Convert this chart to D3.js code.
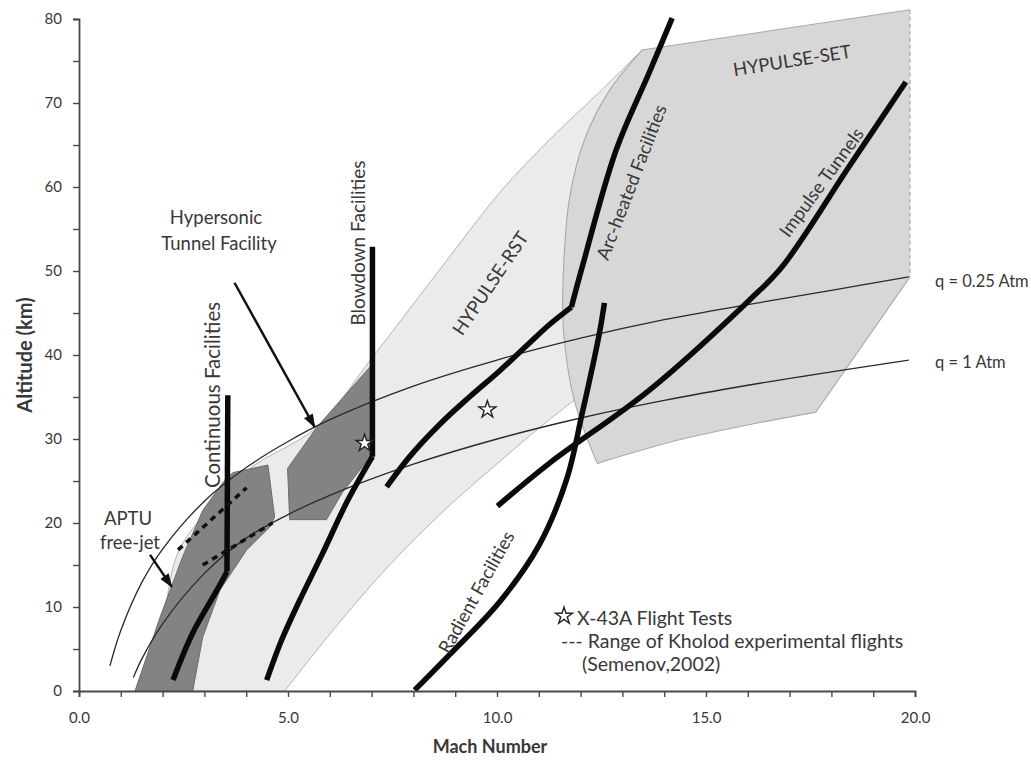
<!DOCTYPE html>
<html>
<head>
<meta charset="utf-8">
<script src="https://cdn.jsdelivr.net/npm/d3@7"></script>
<style>
  body { margin: 0; background: #fff; }
  svg text { font-family: Lato, "Open Sans", sans-serif; fill: #383838; }
</style>
</head>
<body>
<svg id="chart" width="1031" height="768"></svg>
<script>
// ---- Axis ticks -------------------------------------------------------
const machTicks = [0, 1, 2, 3, 4, 5, 6, 7, 8, 9, 10, 11, 12, 13, 14, 15, 16, 17, 18, 19, 20];
const machTickLabels = { 0: "0.0", 5: "5.0", 10: "10.0", 15: "15.0", 20: "20.0" };
const altTicks = [0, 5, 10, 15, 20, 25, 30, 35, 40, 45, 50, 55, 60, 65, 70, 75, 80];
const altTickLabels = { 0: "0", 10: "10", 20: "20", 30: "30", 40: "40", 50: "50", 60: "60", 70: "70", 80: "80" };

// ---- HYPULSE-RST envelope [Mach, altitude km] -------------------------
const rstUpperEdge = [
  [1.58, 0], [2.01, 8.5], [2.37, 16.5], [3.13, 21.8], [4.09, 26.5], [5.69, 31.4],
  [7.00, 39.6], [8.62, 50.1], [10.06, 59.3], [11.25, 65.6], [12.45, 71.3], [13.47, 76.3]
];
const rstHiddenEdge = [[13.47, 76.3], [14.84, 75.1], [12.92, 37.0], [11.85, 34.6]];
const rstLowerEdge = [
  [11.85, 34.6], [11.25, 32.3], [10.06, 27.3], [8.74, 21.5], [7.43, 15.0], [6.12, 7.5], [4.92, 0]
];

// ---- HYPULSE-SET envelope ---------------------------------------------
const setTopEdge = [[13.47, 76.3], [19.88, 81.1]];
const setOpenEdge = [[19.88, 81.1], [19.88, 49.3]];
const setLowerRightEdge = [[19.88, 49.3], [17.63, 33.2]];
const setBottomEdge = [[17.63, 33.2], [16.03, 31.7], [14.36, 29.9], [12.40, 27.1]];
const setLeftEdge = [
  [12.40, 27.1], [11.85, 34.6], [11.59, 43.0], [11.59, 50.1], [11.73, 58.5],
  [12.09, 65.6], [12.69, 71.5], [13.47, 76.3]
];

// ---- Darker facility zones --------------------------------------------
const aptuContinuousZone = [
  [1.34, 0], [1.94, 8.8], [2.48, 16.0], [2.96, 21.5], [3.44, 24.8], [3.68, 26.0],
  [4.52, 26.9], [4.68, 20.7], [4.56, 19.5], [4.01, 16.8], [3.37, 12.0], [2.96, 6.4], [2.72, 0]
];
const hypersonicTunnelZone = [
  [4.99, 26.5], [5.69, 31.4], [7.00, 38.8], [7.00, 28.1], [6.31, 23.7], [5.92, 20.4], [5.04, 20.4]
];

// ---- Constant dynamic pressure lines ----------------------------------
const qQuarterAtm = [
  [0.74, 3.0], [1.0, 7.2], [1.5, 12.9], [2.0, 16.9], [3.0, 22.6], [4.0, 26.6], [5.0, 29.7],
  [6.0, 32.3], [8.0, 36.3], [10.0, 39.4], [12.0, 42.0], [14.0, 44.2], [16.0, 46.0],
  [18.0, 47.7], [19.85, 49.3]
];
const qOneAtm = [
  [1.3, 1.6], [1.5, 3.8], [2.0, 8.0], [3.0, 14.0], [4.0, 18.2], [5.0, 21.0], [6.0, 23.3],
  [8.0, 27.0], [10.0, 30.0], [12.0, 32.5], [14.0, 34.6], [16.0, 36.4], [18.0, 38.0], [19.85, 39.4]
];

// ---- Facility performance lines (each a list of smooth segments) -----
const continuousFacilities = [
  [[2.25, 1.3], [2.72, 6.9], [3.30, 12.0], [3.54, 14.2]],
  [[3.54, 14.2], [3.56, 35.2]]
];
const blowdownFacilities = [
  [[4.49, 1.3], [4.85, 6.1], [5.28, 10.8], [5.81, 16.2], [6.43, 22.7], [7.02, 27.9]],
  [[7.02, 27.9], [7.02, 52.9]]
];
const arcHeatedFacilities = [
  [[7.36, 24.3], [7.91, 27.9], [8.62, 31.7], [9.34, 35.0], [10.06, 38.1], [10.77, 41.4], [11.25, 43.6], [11.78, 45.7]],
  [[11.78, 45.7], [12.04, 50.5], [12.85, 64.4], [13.64, 73.6], [14.19, 80.1]]
];
const radientFacilities = [
  [[8.03, 0.1], [8.86, 4.3], [10.06, 10.6], [11.01, 17.4], [11.66, 25.1], [12.04, 33.1], [12.45, 42.6], [12.57, 46.2]]
];
const impulseTunnels = [
  [[10.01, 22.0], [11.25, 27.1], [13.64, 35.8], [16.03, 46.5], [16.82, 50.5], [18.42, 62.4], [19.78, 72.5]]
];

// ---- Kholod flight ranges and X-43A flights ---------------------------
const kholodUpper = [[2.37, 16.8], [4.01, 24.2]];
const kholodLower = [[2.96, 15.0], [4.63, 20.0]];
const x43aFlights = [[6.83, 29.5], [9.77, 33.5]];

// ---- Pointer arrows [from, to] ----------------------------------------
const hypersonicArrow = [[3.72, 48.6], [5.64, 31.4]];
const aptuArrow = [[1.70, 16.2], [2.22, 12.4]];

// =======================================================================
const svg = d3.select("#chart");
const x = d3.scaleLinear().domain([0, 20]).range([79, 915]);
const y = d3.scaleLinear().domain([0, 80]).range([691, 19]);

const defs = svg.append("defs");
defs.append("marker")
  .attr("id", "arrowhead")
  .attr("markerUnits", "userSpaceOnUse")
  .attr("viewBox", "0 0 14 10")
  .attr("refX", 13).attr("refY", 5)
  .attr("markerWidth", 15).attr("markerHeight", 10)
  .attr("orient", "auto")
  .append("path").attr("d", "M0,0 L14,5 L0,10 Z").attr("fill", "#111");

const poly = d3.line().x(d => x(d[0])).y(d => y(d[1]));
const smooth = d3.line().x(d => x(d[0])).y(d => y(d[1])).curve(d3.curveCatmullRom.alpha(0.5));
const seg = s => (s.length > 2 ? smooth : poly)(s);
// chain several edges into one closed outline
const outline = edges => edges.map((s, i) => i === 0 ? seg(s) : seg(s).replace(/^M/, "L")).join("") + "Z";

// HYPULSE-RST envelope
svg.append("path")
  .attr("d", outline([rstUpperEdge, rstHiddenEdge, rstLowerEdge]))
  .attr("fill", "#ebebeb").attr("stroke", "#b4b4b4").attr("stroke-width", 1);

// HYPULSE-SET envelope
svg.append("path")
  .attr("d", outline([setTopEdge, setOpenEdge, setLowerRightEdge, setBottomEdge, setLeftEdge]))
  .attr("fill", "#d7d7d7").attr("stroke", "none");
svg.append("path")
  .attr("d", outline([setLowerRightEdge, setBottomEdge, setLeftEdge, setTopEdge]).replace(/Z$/, ""))
  .attr("fill", "none").attr("stroke", "#a9a9a9").attr("stroke-width", 1.1);
svg.append("path").attr("d", poly(setOpenEdge))
  .attr("fill", "none").attr("stroke", "#a9a9a9").attr("stroke-width", 1.2)
  .attr("stroke-dasharray", "4,3");

[aptuContinuousZone, hypersonicTunnelZone].forEach(zone => {
  svg.append("path").datum(zone)
    .attr("d", d => poly(d) + "Z")
    .attr("fill", "#838383").attr("stroke", "#6c6c6c").attr("stroke-width", 1);
});

// Dynamic pressure lines
[qQuarterAtm, qOneAtm].forEach(q => {
  svg.append("path").datum(q)
    .attr("d", smooth)
    .attr("fill", "none").attr("stroke", "#2a2a2a").attr("stroke-width", 1.3);
});

// Facility lines
[continuousFacilities, blowdownFacilities, arcHeatedFacilities, radientFacilities, impulseTunnels]
  .forEach(facility => {
    facility.forEach(s => {
      svg.append("path").datum(s)
        .attr("d", seg)
        .attr("fill", "none").attr("stroke", "#0a0a0a")
        .attr("stroke-width", 5.5).attr("stroke-linecap", "butt").attr("stroke-linejoin", "round");
    });
  });

// Kholod ranges (dotted)
[kholodUpper, kholodLower].forEach(s => {
  svg.append("path").datum(s)
    .attr("d", poly)
    .attr("fill", "none").attr("stroke", "#111").attr("stroke-width", 3.5)
    .attr("stroke-dasharray", "6,5");
});

// Pointer arrows
[hypersonicArrow, aptuArrow].forEach(a => {
  svg.append("line")
    .attr("x1", x(a[0][0])).attr("y1", y(a[0][1]))
    .attr("x2", x(a[1][0])).attr("y2", y(a[1][1]))
    .attr("stroke", "#111").attr("stroke-width", 2.5)
    .attr("marker-end", "url(#arrowhead)");
});

// X-43A flight markers
const star = d3.symbol().type(d3.symbolStar).size(90);
svg.selectAll("path.flight").data(x43aFlights).join("path")
  .attr("class", "flight")
  .attr("transform", d => `translate(${x(d[0])},${y(d[1])})`)
  .attr("d", star)
  .attr("fill", "#fff").attr("stroke", "#222").attr("stroke-width", 1.4);

// Axes
const axisColor = "#4a4a4a";
const gx = svg.append("g").attr("transform", `translate(0,${y(0)})`)
  .call(d3.axisBottom(x).tickValues(machTicks).tickSize(6).tickPadding(15)
    .tickFormat(d => machTickLabels[d] || ""));
const gy = svg.append("g").attr("transform", `translate(${x(0)},0)`)
  .call(d3.axisLeft(y).tickValues(altTicks).tickSize(6).tickPadding(11)
    .tickFormat(d => altTickLabels[d] || ""));
[gx, gy].forEach(g => {
  g.select(".domain").attr("stroke", axisColor).attr("stroke-width", 1.8);
  g.selectAll(".tick line").attr("stroke", axisColor).attr("stroke-width", 1.4);
  g.selectAll(".tick text").style("font-family", "Lato, sans-serif")
    .style("font-size", "15px").attr("fill", "#555");
});

// Axis titles
svg.append("text")
  .attr("transform", "translate(24,355) rotate(-90)")
  .attr("text-anchor", "middle").attr("dominant-baseline", "central")
  .style("font-size", "20px").style("font-weight", "bold").attr("fill", "#333")
  .text("Altitude (km)");
svg.append("text")
  .attr("x", 490).attr("y", 746)
  .attr("text-anchor", "middle").attr("dominant-baseline", "central")
  .style("font-size", "18px").style("font-weight", "bold").attr("fill", "#333")
  .text("Mach Number");

// Annotations
const annotations = [
  { t: "Continuous Facilities", cx: 212, cy: 395, r: -90, s: 20.5 },
  { t: "Blowdown Facilities", cx: 357, cy: 243, r: -90, s: 19 },
  { t: "HYPULSE-RST", cx: 490, cy: 283, r: -56, s: 18.5 },
  { t: "Arc-heated Facilities", cx: 631, cy: 182, r: -69, s: 18.5 },
  { t: "Impulse Tunnels", cx: 821, cy: 182, r: -54, s: 18.5 },
  { t: "HYPULSE-SET", cx: 792, cy: 60, r: -9, s: 18.5 },
  { t: "Radient Facilities", cx: 476, cy: 592, r: -61, s: 18.5 },
  { t: "Hypersonic", cx: 216, cy: 217, r: 0, s: 18.5 },
  { t: "Tunnel Facility", cx: 219, cy: 243, r: 0, s: 18.5 },
  { t: "APTU", cx: 128, cy: 518, r: 0, s: 18.5 },
  { t: "free-jet", cx: 130, cy: 542, r: 0, s: 18.5 }
];
svg.selectAll("text.note").data(annotations).join("text")
  .attr("class", "note")
  .attr("transform", d => `translate(${d.cx},${d.cy}) rotate(${d.r})`)
  .attr("text-anchor", "middle").attr("dominant-baseline", "central")
  .style("font-size", d => d.s + "px")
  .text(d => d.t);

// Dynamic pressure labels
svg.append("text").attr("x", 935).attr("y", 281).attr("dominant-baseline", "central")
  .style("font-size", "16.5px").text("q = 0.25 Atm");
svg.append("text").attr("x", 935).attr("y", 362).attr("dominant-baseline", "central")
  .style("font-size", "16.5px").text("q = 1 Atm");

// Legend
svg.append("path")
  .attr("transform", "translate(564,616)")
  .attr("d", d3.symbol().type(d3.symbolStar).size(90)())
  .attr("fill", "#fff").attr("stroke", "#222").attr("stroke-width", 1.4);
svg.append("text").attr("x", 577).attr("y", 617).attr("dominant-baseline", "central")
  .style("font-size", "19.5px").text("X-43A Flight Tests");
svg.append("text").attr("x", 561).attr("y", 640).attr("dominant-baseline", "central")
  .style("font-size", "19.5px").text("--- Range of Kholod experimental flights");
svg.append("text").attr("x", 582).attr("y", 663).attr("dominant-baseline", "central")
  .style("font-size", "19.5px").text("(Semenov,2002)");
</script>
</body>
</html>
